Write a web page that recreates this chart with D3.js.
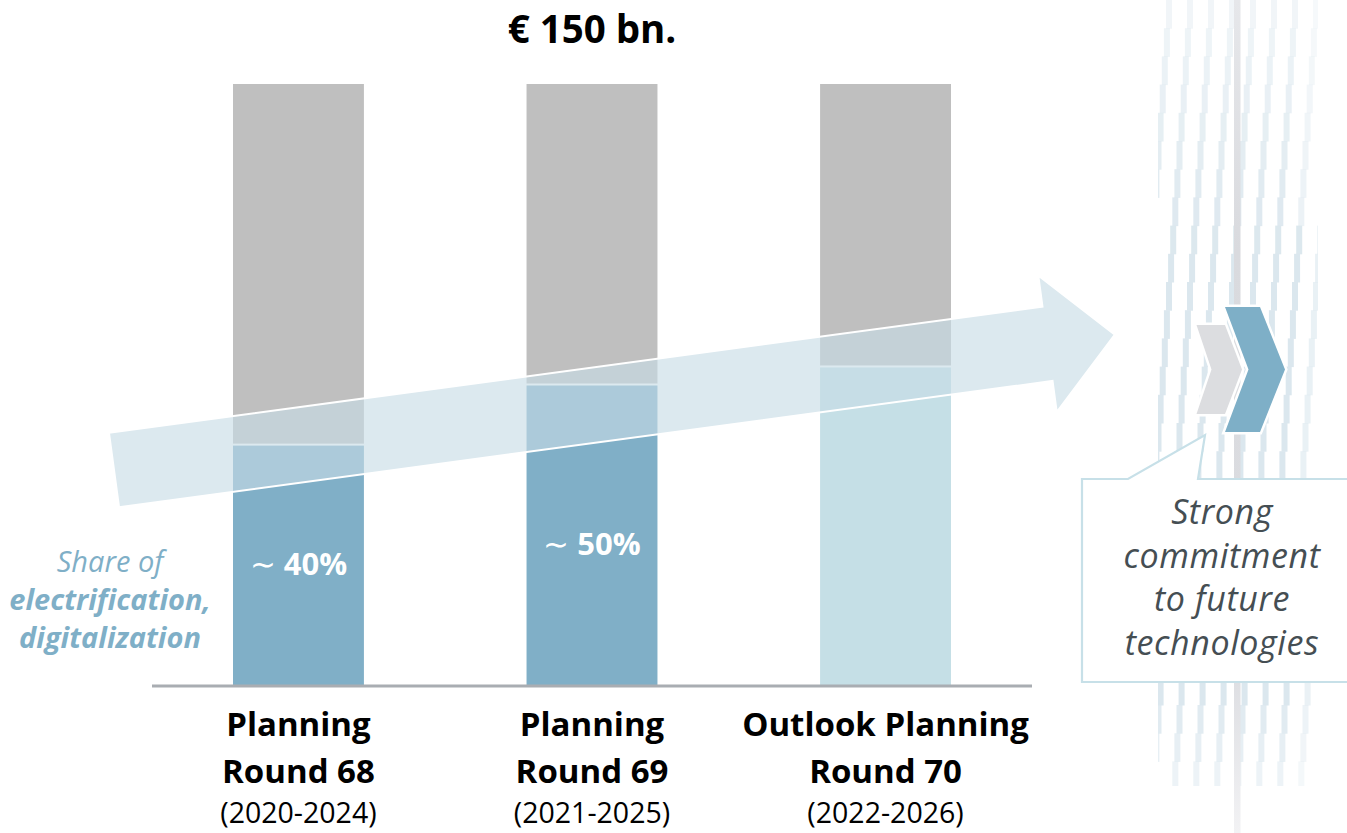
<!DOCTYPE html>
<html>
<head>
<meta charset="utf-8">
<script src="https://cdn.jsdelivr.net/npm/d3@7"></script>
<style>
  html, body { margin: 0; padding: 0; background: #ffffff; }
  svg { display: block; }
  text { font-family: "Open Sans", "Noto Sans", sans-serif; }
</style>
</head>
<body>
<svg id="chart" width="1347" height="833"></svg>
<script>
// Investment plan per planning round: total volume and share of
// electrification / digitalization (percent of the total).
const categories = ["Planning Round 68", "Planning Round 69", "Outlook Planning Round 70"];
const labelLine1 = ["Planning", "Planning", "Outlook Planning"];
const labelLine2 = ["Round 68", "Round 69", "Round 70"];
const periods = ["(2020-2024)", "(2021-2025)", "(2022-2026)"];
const totalShare = [100, 100, 100];
const futureShare = [40, 50, 53];
const shareLabels = ["40%", "50%", null];
const totalLabel = "€ 150 bn.";

const svg = d3.select("#chart");

const x = d3.scaleBand()
  .domain(categories)
  .range([233, 951])
  .paddingInner(0.554)
  .paddingOuter(0);

const y = d3.scaleLinear().domain([0, 100]).range([685, 84]);

const grey = "#bfbfbf";
const shareColors = ["#80afc7", "#80afc7", "#c5dfe6"];

// ---------- decorative striped band on the right ----------
const band = svg.append("g");
band.append("clipPath").attr("id", "bandClip")
  .append("rect").attr("x", 1158).attr("y", 0).attr("width", 160).attr("height", 786);
const stripes = band.append("g").attr("clip-path", "url(#bandClip)");
const rowH = 28.2, colStep = 21;
for (let r = 0; r * rowH < 786; r++) {
  const yTop = r * rowH;
  const t = yTop / 786;
  const op = t < 0.3 ? 0.4 + t / 0.3 * 0.6 : (t > 0.86 ? 1 - (t - 0.86) / 0.14 * 0.65 : 1);
  let off = ((16 - r * 2.1) % colStep + colStep) % colStep;
  for (let xs = 1150 + off; xs < 1325; xs += colStep) {
    const edge = xs > 1298 ? 0.6 : 1;
    stripes.append("rect")
      .attr("x", xs).attr("y", yTop)
      .attr("width", 6).attr("height", rowH + 0.5)
      .attr("fill", "#dbe7ee")
      .attr("opacity", op * edge);
  }
}
const lineGrad = svg.append("defs").append("linearGradient")
  .attr("id", "vline").attr("x1", 0).attr("x2", 0).attr("y1", 0).attr("y2", 1);
lineGrad.append("stop").attr("offset", "0").attr("stop-color", "#e6e7ea");
lineGrad.append("stop").attr("offset", "0.3").attr("stop-color", "#d9dade");
lineGrad.append("stop").attr("offset", "0.8").attr("stop-color", "#dcdde1");
lineGrad.append("stop").attr("offset", "1").attr("stop-color", "#f2f2f4");
band.append("rect").attr("x", 1234).attr("y", 0).attr("width", 6.5).attr("height", 833)
  .attr("fill", "url(#vline)");

// chevrons
const chev = (x0, xTop, xTip, xNotch, yT, yB) => {
  const yM = (yT + yB) / 2;
  return `M${x0},${yT}L${xTop},${yT}L${xTip},${yM}L${xTop},${yB}L${x0},${yB}L${xNotch},${yM}Z`;
};
band.append("path").attr("d", chev(1196.5, 1225, 1242, 1211.5, 325, 414))
  .attr("fill", "#dcdde0").attr("stroke", "#fff").attr("stroke-width", 5).attr("paint-order", "stroke");
band.append("path").attr("d", chev(1225, 1260, 1285, 1248.5, 307, 432))
  .attr("fill", "#7eafc7").attr("stroke", "#fff").attr("stroke-width", 5).attr("paint-order", "stroke");

// ---------- callout ----------
const callout = `M1347,479L1198,479L1205,435L1128,479L1082,479L1082,682L1347,682`;
svg.append("path").attr("d", callout + "Z").attr("fill", "#fff");
svg.append("path").attr("d", callout).attr("fill", "none")
  .attr("stroke", "#c7e0e8").attr("stroke-width", 2.2);
const calloutText = ["Strong", "commitment", "to future", "technologies"];
svg.append("g").selectAll("text").data(calloutText).join("text")
  .attr("x", 1222).attr("y", (d, i) => 524 + i * 43.5)
  .attr("text-anchor", "middle")
  .attr("font-style", "italic")
  .attr("font-size", 34)
  .attr("letter-spacing", 0.6)
  .attr("fill", "#454e53")
  .text(d => d);

// ---------- bars ----------
const bars = svg.append("g");
categories.forEach((c, i) => {
  const bx = x(c), bw = x.bandwidth();
  const split = y(futureShare[i]);
  bars.append("rect").attr("x", bx).attr("y", y(totalShare[i]))
    .attr("width", bw).attr("height", split - y(totalShare[i]) - 1)
    .attr("fill", grey);
  bars.append("rect").attr("x", bx).attr("y", split + 1)
    .attr("width", bw).attr("height", y(0) - split - 1)
    .attr("fill", shareColors[i]);
});

// baseline
svg.append("line").attr("x1", 152).attr("x2", 1032)
  .attr("y1", 686).attr("y2", 686)
  .attr("stroke", "#a9adb2").attr("stroke-width", 3);

// ---------- growth arrow over the bars ----------
const ax = 114, ay = 470, angle = -7.7;
const L = 1010, L1 = 942, hs = 37.5, hh = 69;
svg.append("path")
  .attr("transform", `translate(${ax},${ay}) rotate(${angle})`)
  .attr("d", `M0,${-hs}L${L1},${-hs}L${L1},${-hh}L${L},0L${L1},${hh}L${L1},${hs}L0,${hs}Z`)
  .attr("fill", "rgb(199,220,229)")
  .attr("fill-opacity", 0.62)
  .attr("stroke", "#fff")
  .attr("stroke-width", 2);

// lower edge of the arrow shaft at a given x
const rad = angle * Math.PI / 180;
const arrowBottom = px => ay + (px - ax) * Math.tan(rad) + hs / Math.cos(rad);

// share labels, centred in the part of the bar below the arrow
const lbl = svg.append("g");
categories.forEach((c, i) => {
  if (!shareLabels[i]) return;
  const cx = x(c) + x.bandwidth() / 2;
  const mid = (arrowBottom(cx) + y(0)) / 2;
  const t = lbl.append("text")
    .attr("x", cx)
    .attr("y", mid - 9)
    .attr("text-anchor", "middle")
    .attr("fill", "#fff")
    .attr("font-size", 31);
  t.append("tspan").attr("font-weight", 400).text("∼ ");
  t.append("tspan").attr("font-weight", 700).text(shareLabels[i]);
});

// total label
svg.append("text")
  .attr("x", x(categories[1]) + x.bandwidth() / 2)
  .attr("y", 43)
  .attr("text-anchor", "middle")
  .attr("font-size", 38.5).attr("font-weight", 700)
  .attr("fill", "#000")
  .text(totalLabel);

// category labels
const cat = svg.append("g");
categories.forEach((c, i) => {
  const cx = x(c) + x.bandwidth() / 2;
  cat.append("text").attr("x", cx).attr("y", 736).attr("text-anchor", "middle")
    .attr("font-size", 33).attr("font-weight", 700).attr("fill", "#000").text(labelLine1[i]);
  cat.append("text").attr("x", cx).attr("y", 783).attr("text-anchor", "middle")
    .attr("font-size", 33).attr("font-weight", 700).attr("fill", "#000").text(labelLine2[i]);
  cat.append("text").attr("x", cx).attr("y", 823).attr("text-anchor", "middle")
    .attr("font-size", 28.5).attr("font-weight", 400).attr("fill", "#000").text(periods[i]);
});

// left legend label
const legend = [
  { t: "Share of", w: 400 },
  { t: "electrification,", w: 700 },
  { t: "digitalization", w: 700 }
];
svg.append("g").selectAll("text").data(legend).join("text")
  .attr("x", 110).attr("y", (d, i) => 572 + i * 38)
  .attr("text-anchor", "middle")
  .attr("font-style", "italic")
  .attr("font-weight", d => d.w)
  .attr("font-size", 29)
  .attr("fill", "#7fafc7")
  .text(d => d.t);
</script>
</body>
</html>
